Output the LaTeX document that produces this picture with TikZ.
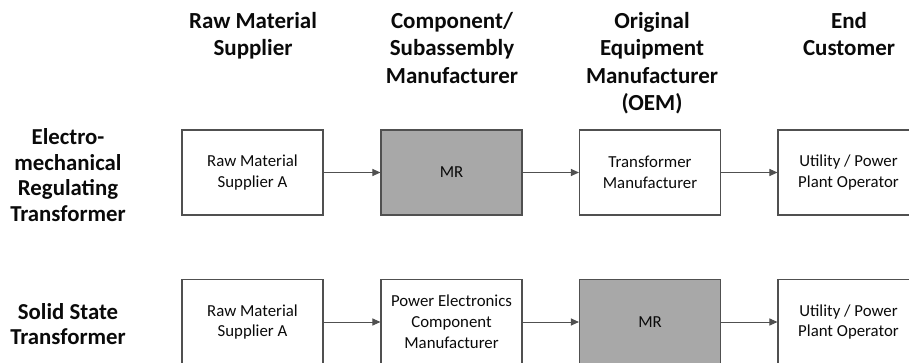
\documentclass[tikz,border=0pt]{standalone}
\usepackage{fontspec}
\setmainfont{Carlito}
\usetikzlibrary{arrows.meta}
\definecolor{boxgray}{RGB}{168,168,168}
\definecolor{edgegray}{RGB}{80,80,80}
\definecolor{txt}{RGB}{10,10,10}
\begin{document}
\begin{tikzpicture}[x=1pt,y=-1pt,
  hdr/.style={font=\bfseries\fontsize{23}{27.4}\selectfont, text=txt, align=center, anchor=north, inner sep=0pt},
  rowlbl/.style={font=\bfseries\fontsize{22.8}{25.8}\selectfont, text=txt, align=center, inner sep=0pt},
  blk/.style={draw=edgegray, line width=1.1pt, minimum width=141pt, minimum height=85pt, inner sep=0pt, align=center, text=txt, font=\fontsize{16.8}{20.8}\selectfont},
  hl/.style={blk, fill=boxgray},
  link/.style={draw=edgegray, line width=1pt, -{Triangle[length=8pt,width=7pt]}}]
\useasboundingbox (0,0) rectangle (909,363);
\clip (0,0) rectangle (909,363);
% headers
\node[hdr] (h1) at (253,12) {Raw Material\\Supplier};
\node[hdr] (h2) at (452,12) {Component/\\Subassembly\\Manufacturer};
\node[hdr] (h3) at (652,12) {Original\\Equipment\\Manufacturer\\(OEM)};
\node[hdr] (h4) at (849,12) {End\\Customer};
% row labels
\node[rowlbl] (r1) at (68,175) {Electro-\\mechanical\\Regulating\\Transformer};
\node[rowlbl] (r2) at (68,324) {Solid State\\Transformer};
% row 1
\node[blk] (a1) at (252.5,172.5) {Raw Material\\Supplier A};
\node[hl]  (b1) at (451.5,172.5) {MR};
\node[blk] (c1) at (650,172.5) {Transformer\\Manufacturer};
\node[blk] (d1) at (848.5,172.5) {Utility / Power\\Plant Operator};
% row 2
\node[blk] (a2) at (252.5,322) {Raw Material\\Supplier A};
\node[blk] (b2) at (451.5,322) {Power Electronics\\Component\\Manufacturer};
\node[hl]  (c2) at (650,322) {MR};
\node[blk] (d2) at (848.5,322) {Utility / Power\\Plant Operator};
% connectors
\draw[link] (a1) -- (b1);
\draw[link] (b1) -- (c1);
\draw[link] (c1) -- (d1);
\draw[link] (a2) -- (b2);
\draw[link] (b2) -- (c2);
\draw[link] (c2) -- (d2);
\end{tikzpicture}
\end{document}
